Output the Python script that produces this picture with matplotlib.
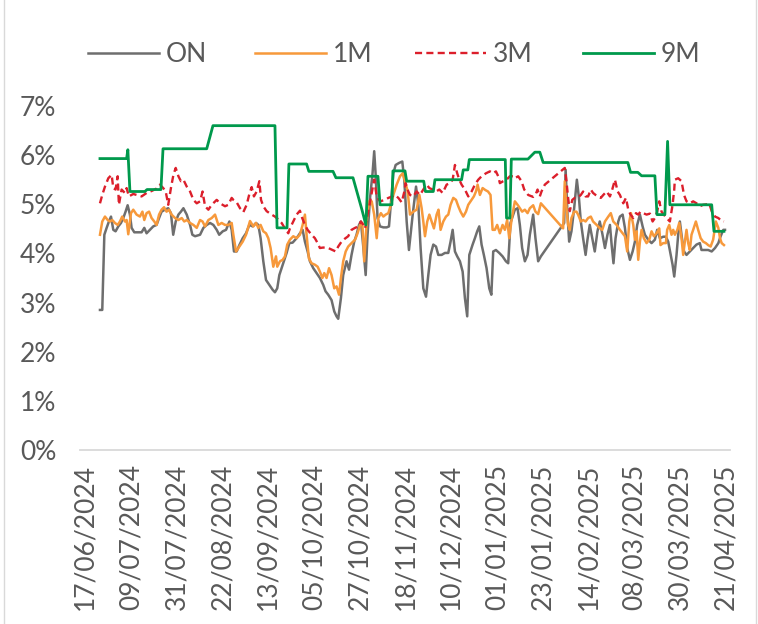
import matplotlib
matplotlib.use("Agg")
import matplotlib.pyplot as plt
import matplotlib.dates as mdates
from matplotlib.lines import Line2D
from matplotlib.ticker import FuncFormatter

# ---------------- data (day offset from START, rate in %) ----------------
START = "2024-06-17"
TICK_STEP_DAYS = 22
N_TICKS = 15
Y_TICKS = [0, 1, 2, 3, 4, 5, 6, 7]
SERIES_NAMES = ["ON", "1M", "3M", "9M"]

on_rate = [(7.2,2.85),(8.3,2.85),(9.3,4.38),(10.4,4.52),(11.5,4.65),(12.5,4.75),(13.6,4.48),(14.7,4.45),(16.0,4.55),(17.3,4.62),(18.4,4.72),(19.5,4.85),(20.5,4.98),(21.6,4.79),(22.4,4.52),(23.7,4.43),(25.6,4.43),(27.2,4.43),(28.5,4.52),(29.6,4.41),(31.2,4.48),(32.8,4.55),(34.4,4.58),(35.6,4.72),(36.8,4.85),(38.4,4.89),(40.0,4.92),(41.3,4.82),(42.4,4.38),(43.6,4.65),(44.9,4.79),(46.1,4.85),(47.3,4.92),(48.9,4.79),(50.5,4.58),(51.6,4.38),(52.9,4.35),
(55.3,4.38),(56.9,4.52),(58.5,4.58),(60.1,4.62),(61.7,4.58),(63.3,4.48),(64.5,4.38),(66.2,4.45),(67.8,4.48),(69.4,4.65),(70.5,4.48),(71.6,4.04),(72.9,4.04),(74.2,4.17),(75.8,4.31),(77.4,4.41),(79.0,4.58),(80.6,4.55),(82.2,4.62),(83.3,4.58),(84.4,4.31),(85.7,3.84),(87.0,3.46),(88.6,3.36),(90.2,3.26),(91.3,3.21),(92.4,3.29),(93.4,3.56),(94.5,3.70),(95.6,3.84),(96.9,4.01),(98.2,4.21),(99.8,4.22),(101.7,4.31),(103.3,4.41),(104.6,4.48),
(105.7,4.24),(107.0,4.04),(108.1,3.84),(109.7,3.70),(111.3,3.60),(112.9,3.50),(114.5,3.36),(115.6,3.23),(116.9,3.16),(118.5,3.05),(119.8,2.82),(120.9,2.72),(121.7,2.67),(123.0,3.09),(124.1,3.56),(125.7,3.84),(126.9,3.67),(128.1,3.97),(129.4,4.24),(130.5,4.38),(131.7,4.58),(132.6,4.65),(133.8,4.11),(134.9,3.56),(135.8,4.38),(137.0,5.13),(138.2,5.63),(139.0,6.08),(139.7,5.60),(140.6,4.72),(141.8,4.55),(143.4,4.53),(145.0,4.53),(146.1,4.55),(147.1,5.06),(148.2,5.63),(149.3,5.80),(150.9,5.84),(152.5,5.87),(153.5,5.47),(154.6,4.65),(155.7,4.07),
(157.5,4.79),(159.1,5.36),(160.2,4.99),(161.3,4.11),(162.6,3.29),(163.9,3.12),(165.0,3.56),(166.1,3.97),(167.4,4.18),(168.7,4.14),(169.8,3.97),(171.4,3.97),(173.0,4.01),(174.6,4.01),(175.7,4.24),(176.7,4.48),(177.8,4.04),(178.9,3.94),(180.2,3.84),(181.5,3.63),(182.6,3.09),(183.7,2.72),(184.7,3.97),(186.3,4.18),(187.4,4.31),(188.5,4.45),(189.5,4.55),(190.6,4.18),(191.7,3.97),(193.0,3.70),(194.3,3.29),(195.3,3.16),(196.2,4.04),(197.5,4.07),(199.1,4.01),(200.7,3.94),(202.3,3.84),(203.4,3.80),(204.5,4.62),
(206.6,4.89),(207.9,4.92),(209.0,4.58),(210.1,4.11),(211.4,3.84),(212.7,3.97),(213.8,4.38),(215.4,4.79),(216.5,4.31),(217.8,3.84),(219.1,3.94),(230.3,4.62),(231.0,5.70),(231.9,4.79),(232.7,4.24),(233.8,4.45),(235.1,4.92),(236.4,5.50),(237.4,5.13),(238.3,4.65),(239.4,4.31),(240.6,3.97),(241.5,4.28),(242.6,4.58),(243.8,4.31),(245.0,4.04),(246.3,4.45),(247.4,4.65),(248.6,4.41),(249.9,4.11),(251.1,4.38),(252.3,4.58),(253.1,4.18),(254.0,3.80),(255.0,4.31),(256.3,4.65),
(257.1,4.75),(258.4,4.79),(259.5,4.52),(260.6,4.11),(261.9,3.87),(263.2,4.04),(264.3,4.24),(265.4,4.58),(266.7,4.79),(268.0,4.55),(269.1,4.38),(270.7,4.28),(272.3,4.21),(273.9,4.28),(275.0,4.48),(276.3,4.31),(277.9,4.34),(279.2,4.34),(280.3,4.24),(281.5,3.97),(282.4,3.77),(283.2,3.53),(284.3,3.97),(285.1,4.38),(285.9,4.65),(286.9,4.31),(287.9,4.04),(289.1,3.97),(290.7,4.04),(292.3,4.11),(293.9,4.18),(295.5,4.21),(296.3,4.07),(297.9,4.07),(299.5,4.07),(301.2,4.04),(302.8,4.11),(304.4,4.21),(305.5,4.35),(306.8,4.48),(307.6,4.48)]

m1_rate = [(7.2,4.38),(8.3,4.65),(9.6,4.75),(10.9,4.68),(12.0,4.65),(13.1,4.68),(14.4,4.62),(15.7,4.58),(16.8,4.65),(17.9,4.75),(19.2,4.65),(20.0,4.68),(20.8,4.39),(22.1,4.82),(23.2,4.89),(24.8,4.79),(26.4,4.75),(27.6,4.85),(28.5,4.68),(29.6,4.82),(30.8,4.85),(32.0,4.72),(33.3,4.65),(34.4,4.58),(35.6,4.79),(36.8,4.89),(38.0,4.94),(39.2,4.85),(40.4,4.89),(41.6,4.79),(43.3,4.72),(44.9,4.68),(46.5,4.72),(47.7,4.65),(48.9,4.68),(50.5,4.62),(52.1,4.58),(53.7,4.52),
(55.3,4.68),(56.5,4.65),(57.7,4.55),(59.3,4.68),(60.9,4.72),(62.5,4.79),(64.1,4.58),(65.7,4.62),(67.3,4.58),(68.9,4.58),(70.5,4.62),(71.3,4.38),(72.6,4.04),(74.2,4.14),(75.8,4.24),(77.4,4.38),(79.3,4.66),(80.9,4.55),(82.2,4.62),(83.3,4.52),(84.4,4.58),(85.7,4.45),(87.0,4.41),(88.1,4.31),(89.2,4.11),(90.5,3.73),(91.8,3.94),(92.4,3.73),(93.7,3.84),(95.0,3.87),(96.1,3.94),(97.2,4.18),(98.5,4.28),(100.1,4.35),(101.7,4.31),(103.3,4.38),(104.6,4.58),
(105.7,4.79),(106.5,4.38),(107.6,3.90),(108.9,3.80),(110.5,3.77),(111.8,3.73),(112.9,3.63),(114.1,3.50),(115.0,3.60),(116.1,3.50),(117.3,3.70),(118.5,3.56),(119.8,3.29),(120.9,3.33),(122.1,3.16),(123.0,3.50),(124.1,3.84),(125.3,4.04),(126.5,4.14),(128.1,4.21),(129.8,4.28),(131.0,4.41),(132.2,4.58),(133.3,4.62),(134.2,3.84),(135.4,4.65),(136.5,5.06),(137.8,5.06),(139.0,4.79),(140.2,4.31),(141.0,4.72),(142.2,4.82),(143.4,4.75),(144.5,4.79),(145.8,4.82),(147.0,4.99),(148.2,5.19),(149.8,5.40),(151.4,5.57),(152.7,5.63),(153.8,5.47),(155.1,5.26),
(156.2,4.79),(157.8,4.85),(159.4,4.89),(160.7,5.19),(161.8,4.92),(162.6,4.65),(163.4,4.35),(164.5,4.65),(165.5,4.79),(166.6,4.65),(167.7,4.51),(169.0,4.79),(169.9,4.89),(170.9,4.48),(172.2,4.65),(173.5,4.75),(174.6,4.79),(175.7,4.99),(177.0,5.13),(178.3,5.09),(179.4,4.96),(180.5,4.85),(181.8,4.75),(183.1,4.85),(184.2,4.99),(185.8,5.09),(186.9,5.16),(187.9,5.26),(188.7,5.40),(189.8,5.19),(191.1,5.33),(192.4,5.29),(193.7,5.26),(194.9,5.19),(195.9,4.48),(197.0,4.48),(198.1,4.58),(199.4,4.41),(200.7,4.58),(201.8,4.48),(202.9,4.68),(203.9,4.31),(205.0,4.68),
(206.6,5.06),(207.9,4.99),(209.0,4.92),(210.1,4.85),(211.4,4.89),(212.7,4.82),(213.8,4.92),(215.4,4.98),(216.5,4.85),(217.8,4.80),(219.1,5.02),(229.8,4.51),(230.6,5.47),(231.4,4.92),(232.2,4.58),(233.0,4.48),(233.8,4.72),(235.1,4.85),(236.2,4.85),(237.0,4.79),(238.3,4.65),(239.4,4.68),(240.6,4.65),(241.8,4.72),(243.1,4.75),(244.2,4.65),(245.9,4.58),(247.5,4.51),(248.6,4.48),(249.9,4.65),(251.5,4.75),(252.7,4.82),(253.9,4.65),(255.5,4.58),
(257.1,4.48),(258.4,4.41),(259.5,4.35),(260.6,4.04),(261.6,4.65),(262.4,4.82),(263.5,4.58),(264.3,4.28),(265.1,4.45),(265.9,3.87),(266.7,4.24),(267.5,4.48),(268.6,4.31),(269.9,4.21),(271.2,4.28),(272.3,4.45),(273.4,4.35),(274.7,4.41),(276.0,4.51),(276.6,4.17),(277.9,4.21),(279.2,4.21),(279.8,4.48),(280.8,4.58),(281.9,4.38),(282.7,4.48),(283.5,4.38),(284.7,4.48),(285.6,4.62),(286.7,4.31),(287.5,3.97),(288.3,4.24),(289.1,4.48),(289.9,4.21),(290.7,4.07),(291.5,4.38),(292.3,4.48),(293.6,4.65),(294.7,4.48),(295.9,4.31),(297.1,4.24),(298.4,4.21),(299.5,4.17),(300.7,4.14),(301.9,4.28),(303.2,4.65),(304.4,4.52),(305.2,4.31),(306.0,4.21),(307.1,4.17)]

m3_rate = [(7.2,5.02),(8.3,5.19),(9.6,5.36),(11.2,5.53),(12.8,5.60),(13.6,5.33),(14.7,5.30),(15.7,5.57),(16.3,4.99),(17.6,5.30),(19.2,5.23),(20.0,5.33),(21.1,5.16),(23.2,5.21),(24.8,5.19),(27.2,5.16),(29.6,5.23),(32.0,5.27),(34.4,5.32),(36.0,5.40),(37.6,5.33),(38.8,5.26),(40.0,4.99),(41.3,5.33),(42.5,5.60),(43.6,5.74),(44.9,5.57),(46.1,5.47),(47.3,5.50),(48.9,5.36),(50.5,5.26),(52.1,5.09),(53.7,5.02),
(55.3,5.06),(56.5,5.26),(57.7,4.96),(59.3,4.89),(60.9,4.99),(63.3,5.09),(64.9,5.02),(67.3,4.96),(68.9,4.99),(70.5,5.13),(71.3,5.09),(72.9,5.04),(74.5,4.92),(76.1,4.84),(77.7,4.99),(79.0,5.21),(80.1,5.35),(81.2,5.16),(82.5,5.26),(83.8,5.47),(84.6,5.09),(85.7,4.96),(87.3,4.86),(89.7,4.79),(91.3,4.75),(92.9,4.69),(94.5,4.62),(96.1,4.51),(97.7,4.41),(98.5,4.51),(100.1,4.65),(101.7,4.79),(103.3,4.87),(104.4,4.72),
(105.7,4.58),(107.0,4.48),(108.9,4.38),(110.5,4.31),(111.8,4.21),(112.9,4.11),(114.5,4.12),(116.9,4.11),(118.9,4.07),(120.5,4.04),(121.7,4.14),(123.3,4.24),(124.9,4.30),(126.5,4.35),(128.1,4.48),(129.8,4.52),(131.4,4.55),(132.6,4.65),(133.8,4.58),(134.6,4.51),(135.8,4.78),(137.0,5.06),(138.1,5.30),(139.0,5.50),(140.2,5.16),(141.8,5.06),(144.2,5.09),(145.8,5.13),(147.7,5.16),(149.0,5.19),(150.6,5.13),(152.2,5.04),(153.5,5.26),(154.1,5.43),(155.4,5.26),
(156.2,5.19),(157.8,5.16),(159.4,5.26),(161.0,5.19),(162.6,5.30),(164.2,5.40),(165.5,5.33),(167.1,5.30),(168.7,5.26),(170.3,5.30),(171.9,5.23),(173.8,5.40),(175.4,5.43),(176.7,5.50),(177.8,5.80),(178.9,5.63),(179.9,5.50),(181.0,5.40),(182.6,5.30),(184.2,5.16),(185.8,5.26),(187.4,5.40),(189.0,5.50),(190.6,5.57),(192.7,5.63),(194.6,5.67),(196.2,5.63),(197.5,5.67),(198.6,5.57),(199.4,5.43),(201.0,5.47),(202.6,5.50),(204.2,5.57),(205.8,5.57),
(206.6,5.53),(208.2,5.57),(209.8,5.47),(211.1,5.30),(213.0,5.19),(215.4,5.15),(216.5,5.19),(217.5,5.30),(218.6,5.16),(219.4,5.26),(221.0,5.40),(230.6,5.74),(231.4,5.47),(232.2,5.13),(233.0,4.86),(234.2,5.09),(235.4,5.13),(237.0,5.14),(238.3,5.19),(239.4,5.26),(240.6,5.16),(241.8,5.16),(243.1,5.30),(244.2,5.23),(245.4,5.19),(246.7,5.16),(247.9,5.13),(249.1,5.19),(250.7,5.26),(252.3,5.16),(253.4,5.30),(254.7,5.50),(256.0,5.26),
(257.1,5.19),(258.7,5.02),(260.0,5.13),(261.1,4.89),(262.2,4.79),(263.5,4.72),(264.8,4.82),(265.9,4.79),(267.0,4.85),(268.3,4.82),(269.9,4.79),(271.5,4.81),(272.8,4.65),(273.9,4.72),(275.0,4.85),(276.0,5.06),(277.1,4.85),(278.2,4.79),(279.5,4.72),(281.1,4.65),(282.4,4.99),(283.2,5.30),(283.5,5.50),(285.1,5.53),(286.7,5.47),(287.9,5.19),(289.1,5.06),(290.7,5.02),(292.3,5.06),(293.9,5.02),(295.5,4.96),(297.1,4.99),(298.8,5.00),(300.0,5.02),(301.2,4.86),(302.8,4.75),(304.4,4.72),(306.0,4.66),(307.1,4.65)]

m9_rate = [(7.2,5.93),(20.0,5.93),(20.6,6.11),(21.6,5.26),(28.8,5.26),(29.8,5.30),(36.5,5.30),(37.5,6.13),(58.5,6.13),(61.5,6.60),(91.3,6.60),(92.3,4.52),(97.1,4.52),(98.0,5.82),(106.5,5.82),(107.6,5.67),(119.2,5.67),(120.6,5.54),(128.8,5.54),(133.1,4.89),(135.0,4.58),(136.0,5.57),(140.8,5.57),(141.8,4.99),(147.5,4.99),(148.0,5.68),(153.8,5.68),(154.6,5.47),(162.8,5.47),(163.6,5.26),(167.4,5.26),(168.2,5.50),(181.0,5.50),(181.8,5.70),(184.0,5.70),(184.7,5.91),(202.0,5.91),(202.6,4.72),(204.2,4.72),(204.9,5.92),(212.9,5.92),(216.2,6.06),(218.6,6.06),(220.2,5.85),(260.9,5.85),(262.2,5.65),(265.7,5.65),(267.5,5.58),(273.9,5.58),(274.9,4.79),(278.7,4.79),(280.0,6.28),(281.1,4.99),(301.2,4.99),(302.3,4.45),(307.1,4.45)]

# ---------------- styling ----------------
TEXT = "#595959"
FONT = ["Lato", "DejaVu Sans"]
FS = 19
WEIGHT = "normal"

fig = plt.figure(figsize=(7.58, 6.24), dpi=100)
ax = fig.add_axes([80/758, 174/624, 650/758, 344/624])

base = mdates.datestr2num(START)

styles = {
    "ON": dict(color="#6e6e6e", lw=1.8, ls="-"),
    "1M": dict(color="#f7993b", lw=1.8, ls="-"),
    "3M": dict(color="#dc1f2b", lw=1.7, ls=(0, (3.0, 1.8))),
    "9M": dict(color="#00994c", lw=2.0, ls="-"),
}
datasets = {"ON": on_rate, "1M": m1_rate, "3M": m3_rate, "9M": m9_rate}
handles = []
for name in SERIES_NAMES:
    d = datasets[name]
    xs = [base + t for t, _ in d]
    ys = [v for _, v in d]
    st = styles[name]
    (h,) = ax.plot(xs, ys, color=st["color"], lw=st["lw"], ls=st["ls"],
                   solid_joinstyle="round", label=name)
    handles.append(h)

ax.set_ylim(0, 7)
ax.set_yticks(Y_TICKS)
ax.yaxis.set_major_formatter(FuncFormatter(lambda v, p: f"{v:.0f}%"))
ax.set_xlim(base - 2.4, base + 310.0)
ticks = [base + TICK_STEP_DAYS * i for i in range(N_TICKS)]
ax.set_xticks(ticks)
ax.xaxis.set_major_formatter(mdates.DateFormatter("%d/%m/%Y"))

for s in ["top", "right", "left"]:
    ax.spines[s].set_visible(False)
ax.spines["bottom"].set_color("#d9d9d9")
ax.spines["bottom"].set_linewidth(1.3)
ax.tick_params(axis="x", length=0, pad=10, labelrotation=90, labelsize=FS, labelcolor=TEXT)
ax.tick_params(axis="y", length=0, pad=17, labelsize=FS, labelcolor=TEXT)
for lab in ax.get_xticklabels() + ax.get_yticklabels():
    lab.set_fontfamily(FONT)
    lab.set_fontweight(WEIGHT)

# legend: one entry per slot, placed like the reference
legend_x_px = [88, 255, 415, 583]
for h, name, xp in zip(handles, SERIES_NAMES, legend_x_px):
    leg = fig.legend(handles=[h], labels=[name], loc="center left",
                     bbox_to_anchor=(xp/758, 1 - 55/624), frameon=False,
                     handlelength=2.7, handletextpad=0.25,
                     borderpad=0, borderaxespad=0,
                     prop={"family": FONT, "size": FS, "weight": WEIGHT})
    for t in leg.get_texts():
        t.set_color(TEXT)

# thin frame lines at the picture edges
fig.add_artist(Line2D([3.5/758, 3.5/758], [0, 1], color="#d9d9d9", lw=1.0))
fig.add_artist(Line2D([755.5/758, 755.5/758], [0, 1], color="#d9d9d9", lw=1.0))

fig.savefig("out.png", dpi=100, facecolor="white")
